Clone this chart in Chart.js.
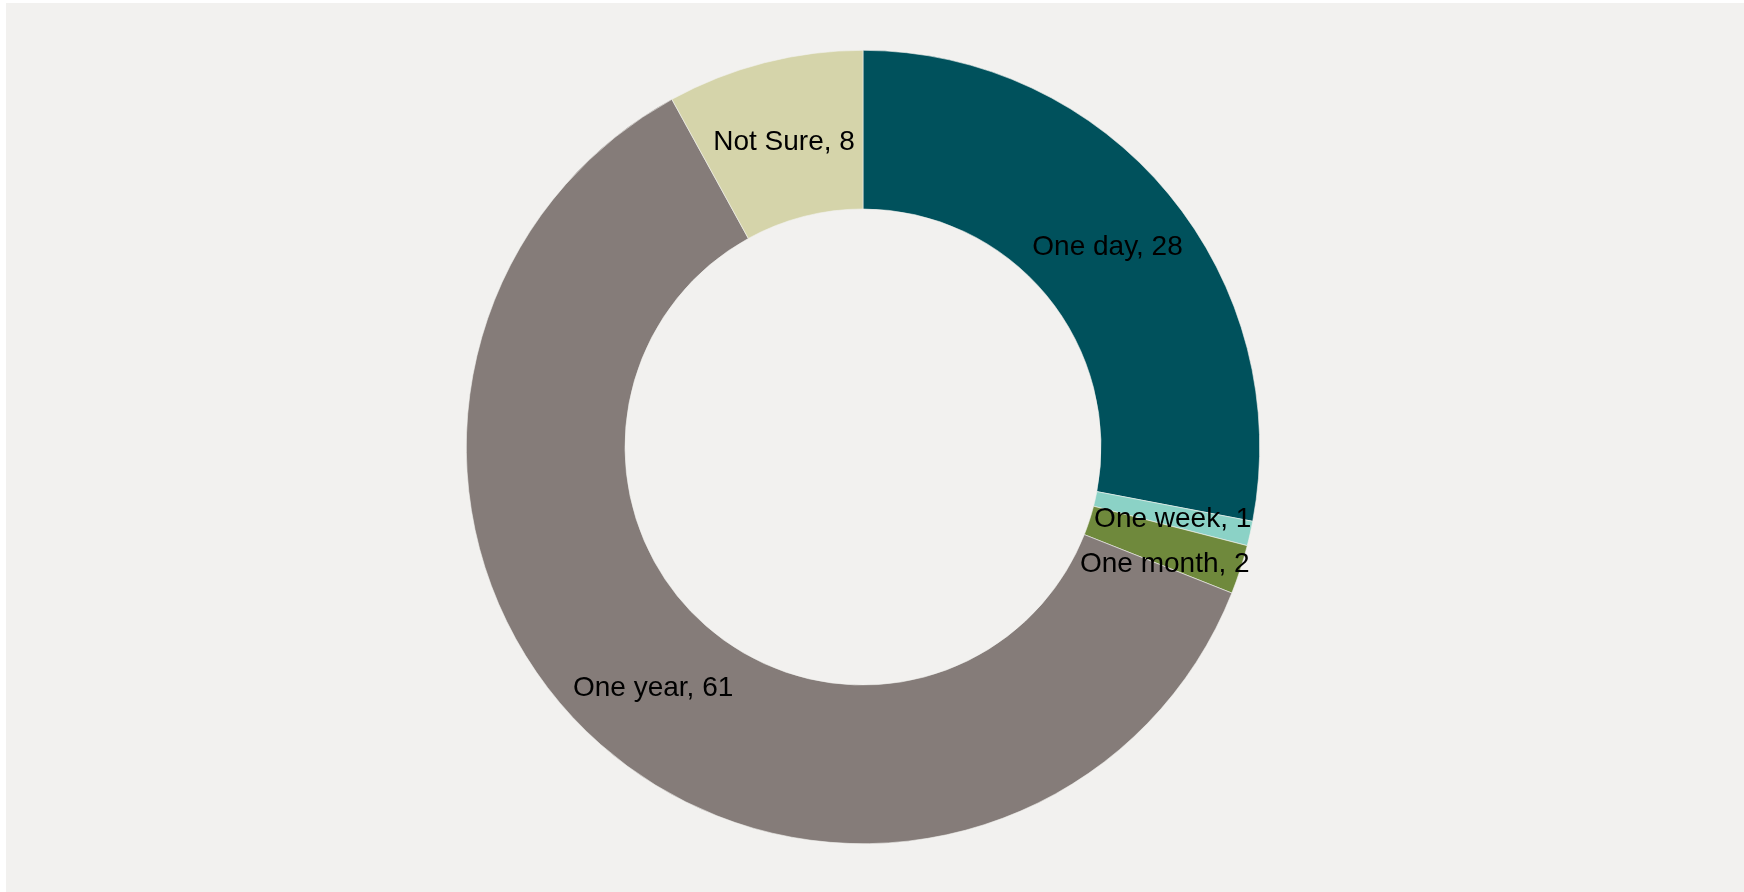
<!DOCTYPE html>
<html>
<head>
<meta charset="utf-8">
<script src="https://cdn.jsdelivr.net/npm/chart.js@4.4.1/dist/chart.umd.min.js"></script>
<style>
    html, body { margin: 0; padding: 0; background: #ffffff; }
    #wrap {
        position: absolute;
        left: 6px;
        top: 3px;
        width: 1738px;
        height: 889px;
        background: #f2f1ef;
    }
</style>
</head>
<body>
<div id="wrap"><canvas id="donut"></canvas></div>
<script>
    // data
    var categories = ['One day', 'One week', 'One month', 'One year', 'Not Sure'];
    var counts = [28, 1, 2, 61, 8];
    var sliceColors = ['#00515c', '#8bd2c6', '#6f893c', '#857c79', '#d5d4aa'];

    // draws "name, value" in the middle of each slice, nudging labels that collide
    var sliceLabels = {
        id: 'sliceLabels',
        afterDatasetsDraw: function(chart) {
            var ctx = chart.ctx;
            var meta = chart.getDatasetMeta(0);
            var fontSize = 28;
            var minGap = fontSize * 1.6;
            var placed = [];

            ctx.save();
            ctx.font = fontSize + 'px "Liberation Sans", Arial, sans-serif';
            ctx.fillStyle = '#000000';
            ctx.textAlign = 'center';
            ctx.textBaseline = 'middle';

            meta.data.forEach(function(arc, i) {
                var p = arc.getProps(['x', 'y', 'startAngle', 'endAngle', 'innerRadius', 'outerRadius'], true);
                var mid = (p.startAngle + p.endAngle) / 2;
                var r = (p.innerRadius + p.outerRadius) / 2;
                var x = p.x + Math.cos(mid) * r;
                var y = p.y + Math.sin(mid) * r + 3;
                var text = categories[i] + ', ' + counts[i];
                var w = ctx.measureText(text).width;

                placed.forEach(function(b) {
                    if (Math.abs(b.x - x) < (b.w + w) / 2 && Math.abs(b.y - y) < minGap) {
                        y = b.y + minGap;
                    }
                });
                placed.push({ x: x, y: y, w: w });
                ctx.fillText(text, x, y);
            });
            ctx.restore();
        }
    };

    new Chart(document.getElementById('donut').getContext('2d'), {
        type: 'doughnut',
        data: {
            labels: categories,
            datasets: [{
                data: counts,
                backgroundColor: sliceColors,
                borderColor: '#f2f1ef',
                borderWidth: 0.6
            }]
        },
        options: {
            responsive: true,
            maintainAspectRatio: false,
            animation: false,
            cutout: '60%',
            layout: {
                padding: { left: 460, right: 484, top: 47, bottom: 48 }
            },
            plugins: {
                legend: { display: false },
                tooltip: { enabled: false }
            }
        },
        plugins: [sliceLabels]
    });
</script>
</body>
</html>
